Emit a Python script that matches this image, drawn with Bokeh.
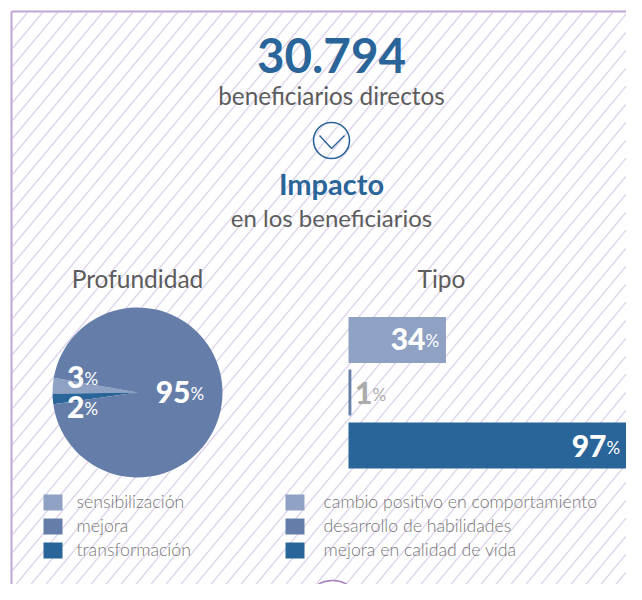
import math
import numpy as np
from bokeh.plotting import figure
from bokeh.models import Range1d
from bokeh.core.properties import value
from bokeh.embed import file_html
from bokeh.resources import INLINE

# ---- data ----
total_label = "30.794"
depth_names = ["sensibilización", "transformación", "mejora"]
depth_values = [3, 2, 95]
type_names = ["cambio positivo en comportamiento", "desarrollo de habilidades", "mejora en calidad de vida"]
type_values = [34, 1, 97]
depth_legend = ["sensibilización", "mejora", "transformación"]

LIGHT, MID, DARK = "#8fa2c4", "#647ea9", "#2a6599"
depth_colors = [LIGHT, DARK, MID]
depth_legend_colors = [LIGHT, MID, DARK]
type_colors = [LIGHT, MID, DARK]
TXT, LEG, FRAME, STRIPE = "#5c5c5c", "#767676", "#bfa5d3", "#dcd3ea"

# 642x600 window less the page's 8px margin on each side
W, H = 626, 584
p = figure(width=W, height=H, output_backend="svg", toolbar_location=None,
           x_range=Range1d(0, W), y_range=Range1d(H, 0),
           min_border=0, outline_line_color=None, background_fill_color="white",
           border_fill_color="white")
p.axis.visible = False
p.grid.visible = False

# percent scale for the bars: 0 at x=348, 97 at x=626
pxp = (626 - 348) / 97
p.extra_x_ranges["pct"] = Range1d((0 - 348) / pxp, (W - 348) / pxp)

# stripes
slope, step = 1.2, 15.0
x0, y0, x1, y1 = 12.0, 12.0, float(W), float(H)
xs, ys = [], []
for c in np.arange(7.0, 1600.0, step):
    ax = max(x0, c - y1 / slope)
    bx = min(x1, c - y0 / slope)
    if bx > ax:
        xs.append([ax, bx])
        ys.append([(c - ax) * slope, (c - bx) * slope])
p.multi_line(xs, ys, line_color=STRIPE, line_width=1.3)

# frame
p.segment([11, 11], [11, 11], [11, x1], [y1, 11], line_color=FRAME, line_width=2)

def txt(x, y, s, size, color=TXT, font="Lato", style="normal", align="center"):
    p.text([x], [y], text=[s], text_font=value(font), text_font_size=f"{size}px",
           text_color=color, text_font_style=style, text_align=align, text_baseline="middle")

txt(331, 54.5, total_label, 47.5, DARK, style="bold")
txt(331, 95, "beneficiarios directos", 24.3)
txt(331, 183, "Impacto", 29, DARK, style="bold")
txt(331, 217, "en los beneficiarios", 24)
txt(137, 278, "Profundidad", 24.5)
txt(441, 278, "Tipo", 24.5)

# chevron icon
p.circle([331], [140], radius=18, fill_color=None, line_color=DARK, line_width=1.6)
p.line([319, 331, 344], [135, 148, 135], line_color=DARK, line_width=1.4)

# pie
acc = math.radians(170)
cx, cy, r = 137, 392, 85
for v, col in zip(depth_values, depth_colors):
    a = v / sum(depth_values) * 2 * math.pi
    p.wedge([cx], [cy], radius=r, start_angle=acc, end_angle=acc + a, fill_color=col, line_color=None)
    acc += a

def pct(x, y, v, color="white", size=30):
    p.text([x], [y], text=[str(v)], text_font=value("Lato Black"), text_font_size=f"{size}px",
           text_color=color, text_align="right", text_baseline="middle")
    p.text([x], [y + 2], text=["%"], text_font=value("Lato"), text_font_size="17px",
           text_color=color, text_align="left", text_baseline="middle")

pct(84, 376, depth_values[0])
pct(84, 406, depth_values[1])
pct(190, 391, depth_values[2])

# bars
bar_y = [339.5, 392, 445]
p.hbar(y=bar_y, left=[0, 0, 0], right=type_values, height=[46, 46, 46], fill_color=type_colors,
       line_color=None, x_range_name="pct")
pct(425, 338, type_values[0])
pct(372, 392, type_values[1], "#ababab")
pct(606, 445, type_values[2])

# legends
leg_y = [502, 526, 550]
leg_text_y = [501, 524.5, 548.5]
p.rect([52.5] * 3, leg_y, width=19, height=16, fill_color=depth_legend_colors, line_color=None)
p.rect([294.5] * 3, leg_y, width=19, height=16, fill_color=type_colors, line_color=None)
p.text([76] * 3, leg_text_y, text=depth_legend, text_font=value("Lato Light"), text_font_size="17.7px",
       text_color=LEG, text_baseline="middle")
p.text([323] * 3, leg_text_y, text=type_names, text_font=value("Lato Light"), text_font_size="17.7px",
       text_color=LEG, text_baseline="middle")

# plus icon, cut by the page edge
p.circle([332], [608], radius=28, fill_color="white", line_color="#a67fc0", line_width=1.3)

open("out.html", "w").write(file_html(p, INLINE))
